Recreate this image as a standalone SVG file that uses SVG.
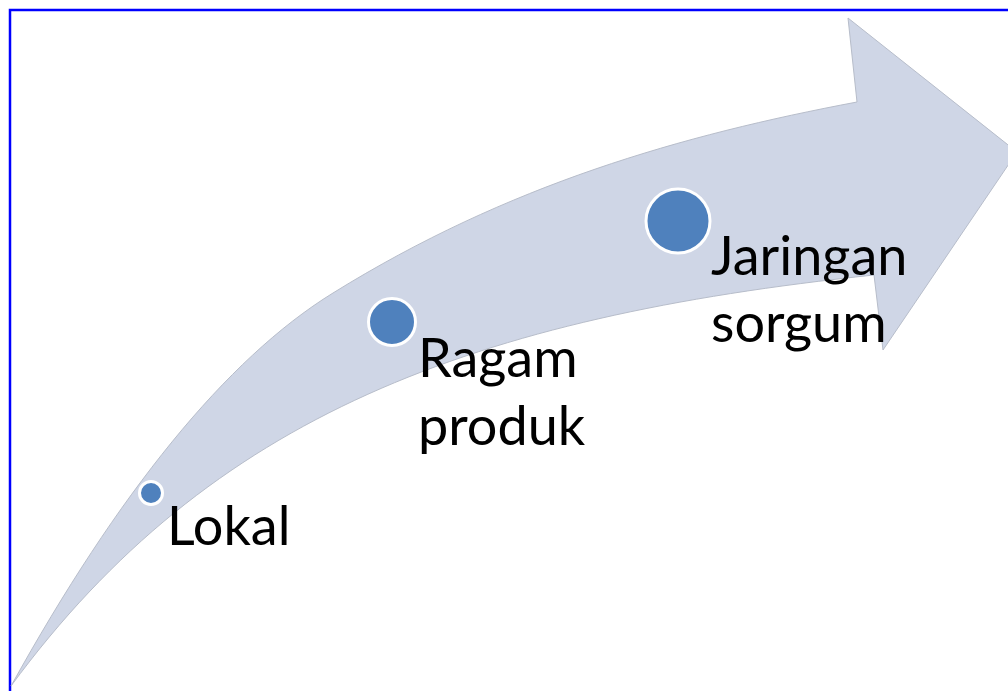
<svg xmlns="http://www.w3.org/2000/svg" width="1008" height="691" viewBox="0 0 1008 691">
<style>
.lbl{font-family:Lato,"Open Sans","Liberation Sans",sans-serif;font-size:54px;fill:#000}
.dot{fill:#4F81BD;stroke:#fff;stroke-width:3}
</style>
<rect width="1008" height="691" fill="#fff"/>
<rect x="10" y="10" width="1100" height="800" fill="none" stroke="#0000ff" stroke-width="2.5"/>
<g id="arrow">
<path d="M 11 686 C 118 493 226 359 333 293 C 508 184.5 682 135 857 102 L 848 18 L 1017 152 L 883 350 L 874 275 C 475 317 211 414 11 686 Z" fill="#CFD6E6" stroke="#B7BDCA" stroke-width="1"/>
</g>
<g id="connectors"></g>
<g id="node-lokal">
<circle class="dot" cx="151" cy="493" r="11.5"/>
<text class="lbl" x="167" y="545">Lokal</text>
</g>
<g id="node-ragam">
<circle class="dot" cx="392" cy="322" r="23.5"/>
<text class="lbl" x="418" y="377">Ragam</text>
<text class="lbl" x="418" y="445">produk</text>
</g>
<g id="node-jaringan">
<circle class="dot" cx="678" cy="221" r="32"/>
<text class="lbl" x="711" y="275">Jaringan</text>
<text class="lbl" x="711" y="342">sorgum</text>
</g>
</svg>
